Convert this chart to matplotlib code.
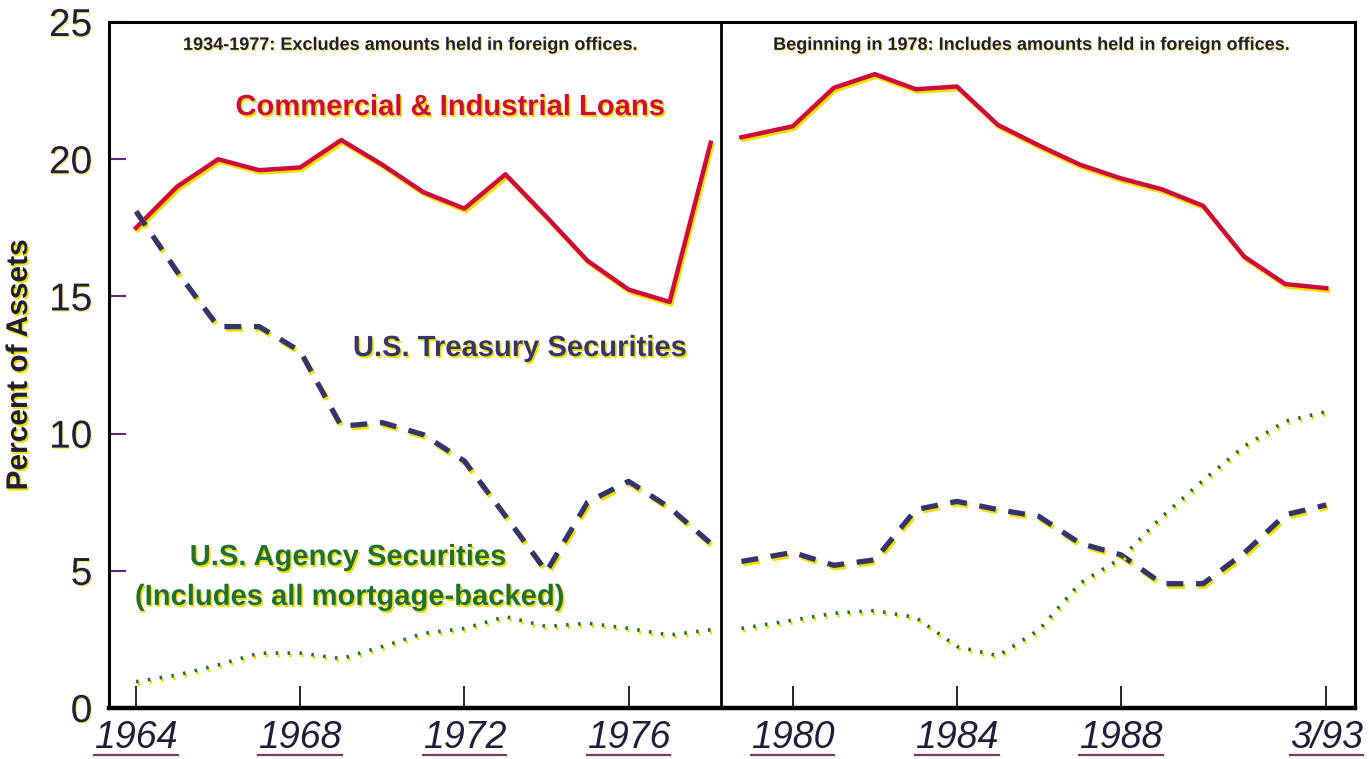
import matplotlib
matplotlib.use('Agg')
import matplotlib.pyplot as plt
import matplotlib.patheffects as pe
from matplotlib.lines import Line2D

# years: before and after the 1978 break
years_pre = list(range(1964, 1979))
years_post = [1978.75] + list(range(1980, 1994))

# percent of assets
ci_pre = [17.5, 19.0, 20.0, 19.6, 19.7, 20.7, 19.8, 18.8, 18.2, 19.45, 17.9, 16.3, 15.25, 14.8, 20.6]
ci_post = [20.8, 21.2, 22.6, 23.1, 22.55, 22.65, 21.25, 20.5, 19.8, 19.3, 18.9, 18.3, 16.45, 15.45, 15.3]
tsy_pre = [18.1, 15.9, 13.9, 13.9, 13.0, 10.27, 10.4, 9.96, 9.0, 7.0, 4.97, 7.5, 8.26, 7.3, 6.0]
tsy_post = [5.34, 5.67, 5.2, 5.4, 7.23, 7.53, 7.23, 6.98, 6.0, 5.58, 4.53, 4.53, 5.65, 7.04, 7.4]
agy_pre = [0.96, 1.2, 1.57, 2.0, 2.0, 1.8, 2.24, 2.72, 2.9, 3.33, 2.97, 3.09, 2.9, 2.66, 2.85]
agy_post = [2.9, 3.2, 3.45, 3.55, 3.3, 2.24, 1.9, 2.85, 4.55, 5.46, 6.98, 8.3, 9.54, 10.45, 10.8]

tick_years = [1964, 1968, 1972, 1976, 1980, 1984, 1988, 1993]
tick_labels = ['1964', '1968', '1972', '1976', '1980', '1984', '1988', '3/93']
y_ticks = [0, 5, 10, 15, 20, 25]

plt.rcParams['font.family'] = ['Liberation Sans', 'DejaVu Sans']

red = '#cf0a3c'
navy = '#34346e'
green = '#1f6e35'
ink = '#1e1e3c'
shadow_yellow = '#efe200'

fig = plt.figure(figsize=(13.69, 7.59), dpi=100)
ax = fig.add_axes([0.0796, 0.0672, 0.9102, 0.9038])

line_fx = [pe.SimpleLineShadow(offset=(1.2, -1.8), shadow_color=shadow_yellow, alpha=1), pe.Normal()]
text_fx = [pe.SimplePatchShadow(offset=(1.2, -1.5), shadow_rgbFace=shadow_yellow, alpha=1), pe.Normal()]
small_fx = [pe.SimplePatchShadow(offset=(0.8, -1.0), shadow_rgbFace='#f3ea60', alpha=0.9), pe.Normal()]

for xs, ys in [(years_pre, ci_pre), (years_post, ci_post)]:
    ax.plot(xs, ys, color=red, lw=3.2, solid_joinstyle='round', path_effects=line_fx)
for xs, ys in [(years_pre, tsy_pre), (years_post, tsy_post)]:
    ax.plot(xs, ys, color=navy, lw=3.8, dashes=(3.2, 2.4), path_effects=line_fx)
for xs, ys in [(years_pre, agy_pre), (years_post, agy_post)]:
    ax.plot(xs, ys, color=green, lw=2.6, dashes=(0.7, 2.6), path_effects=line_fx)

ax.axvline(1978.25, color='black', lw=2)

ax.set_xlim(1963.34, 1993.70)
ax.set_ylim(0, 25)

ax.set_yticks(y_ticks)
ax.set_yticklabels([str(v) for v in y_ticks], fontsize=28, color=ink)
ax.set_xticks(tick_years)
ax.set_xticklabels(tick_labels, fontsize=27, fontstyle='italic', color=ink)
ax.tick_params(axis='y', direction='in', length=12, width=1.5, pad=12, color='#5a2a7a')
ax.tick_params(axis='x', direction='in', length=16, width=1.2, pad=9)
for t in ax.get_yticklabels():
    t.set_path_effects(small_fx)

for side in ['left', 'right', 'top']:
    ax.spines[side].set_linewidth(2.2)
ax.spines['bottom'].set_linewidth(3.2)

ax.set_ylabel('Percent of Assets', fontsize=21.5, fontweight='bold', color=ink, path_effects=text_fx)
ax.yaxis.set_label_coords(-0.061, 0.5)

ax.text(1970.67, 24.15, '1934-1977: Excludes amounts held in foreign offices.',
        fontsize=13, fontweight='bold', ha='center', va='center', color=ink, path_effects=small_fx)
ax.text(1985.8, 24.15, 'Beginning in 1978: Includes amounts held in foreign offices.',
        fontsize=13, fontweight='bold', ha='center', va='center', color=ink, path_effects=small_fx)
ax.text(1971.65, 21.9, 'Commercial & Industrial Loans', color=red, fontsize=21,
        fontweight='bold', ha='center', va='center', path_effects=text_fx)
ax.text(1973.35, 13.12, 'U.S. Treasury Securities', color=navy, fontsize=21,
        fontweight='bold', ha='center', va='center', path_effects=text_fx)
ax.text(1969.16, 5.5, 'U.S. Agency Securities', color=green, fontsize=21,
        fontweight='bold', ha='center', va='center', path_effects=text_fx)
ax.text(1969.2, 4.05, '(Includes all mortgage-backed)', color=green, fontsize=21,
        fontweight='bold', ha='center', va='center', path_effects=text_fx)

# underline the year labels
fig.canvas.draw()
W, H = fig.get_size_inches() * fig.dpi
for lab in ax.get_xticklabels():
    bb = lab.get_window_extent()
    yline = (bb.y0 + 1) / H
    fig.add_artist(Line2D([bb.x0 / W, bb.x1 / W], [yline, yline], color='#7a3a5a', lw=1.6))

fig.savefig('out.png', dpi=100)
